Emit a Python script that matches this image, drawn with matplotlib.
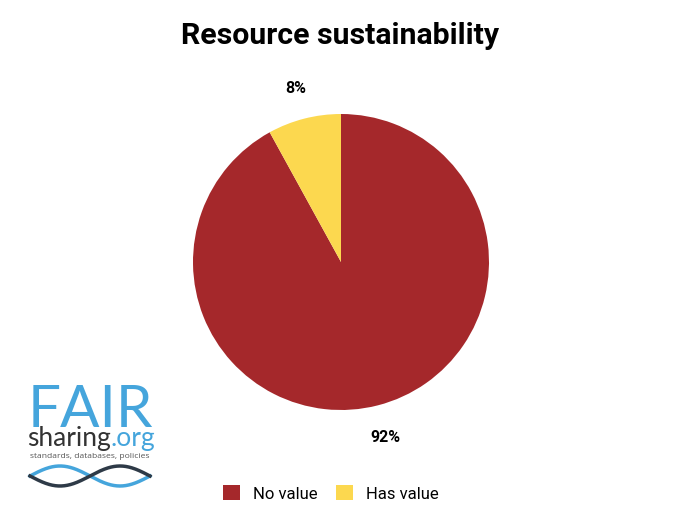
import numpy as np
import matplotlib
matplotlib.use("Agg")
import matplotlib.pyplot as plt
from matplotlib.patches import Patch

categories = ["No value", "Has value"]
values = [92, 8]
colors = ["#A5282B", "#FCD84F"]

plt.rcParams['font.family'] = ['Roboto', 'DejaVu Sans']

W, H = 680, 510
fig = plt.figure(figsize=(W / 100, H / 100), dpi=100)

# pie centred at (341, 263) px with radius 148 px
cx, cy, r = 341, 263, 148
ax = fig.add_axes([(cx - r) / W, (H - cy - r) / H, 2 * r / W, 2 * r / H])
wedges, texts, autotexts = ax.pie(
    values, colors=colors, startangle=90, counterclock=False,
    autopct=lambda p: f"{p:.0f}%", pctdistance=1.22,
    wedgeprops=dict(linewidth=0),
    textprops=dict(fontsize=11.5, fontweight='bold', color='black'))
ax.set_xlim(-1, 1)
ax.set_ylim(-1, 1)
ax.set_aspect('equal')
ax.axis('off')

fig.text(340 / W, 1 - 36 / H, "Resource sustainability", ha='center', va='center',
         fontsize=21.8, fontweight='bold')

handles = [Patch(facecolor=c, edgecolor='none') for c in colors]
fig.legend(handles, categories, loc='center', bbox_to_anchor=(331 / W, 1 - 494 / H),
           ncol=2, frameon=False, fontsize=12, handlelength=1.0, handleheight=1.0,
           columnspacing=1.1, handletextpad=0.8)

# FAIRsharing logo, drawn in pixel coordinates
lg = fig.add_axes([0, 0, 1, 1], zorder=-1)
lg.set_xlim(0, W)
lg.set_ylim(H, 0)
lg.axis('off')
blue = "#45A5DC"
dark = "#2E3A47"
lg.text(90, 427, "FAIR", ha='center', va='baseline', fontsize=42, color=blue,
        family='Lato')
t = lg.text(27, 446, "sharing", ha='left', va='baseline', fontsize=19, color='#333333',
            family='Lato')
fig.canvas.draw()
bb = t.get_window_extent()
x_end = lg.transData.inverted().transform((bb.x1, bb.y0))[0]
lg.text(x_end, 446, ".org", ha='left', va='baseline', fontsize=19, color=blue,
        family='Lato')
lg.text(90, 458, "standards, databases, policies", ha='center', va='baseline',
        fontsize=6.1, color='#555555', family='Open Sans')
xs = np.linspace(30, 150, 200)
lg.plot(xs, 477 - 10 * np.sin(np.pi * (xs - 30) / 60), color=blue, lw=2.5)
lg.plot(xs, 477 + 10 * np.sin(np.pi * (xs - 30) / 60), color=dark, lw=2.5)

fig.savefig("out.png", dpi=100, facecolor='white')
